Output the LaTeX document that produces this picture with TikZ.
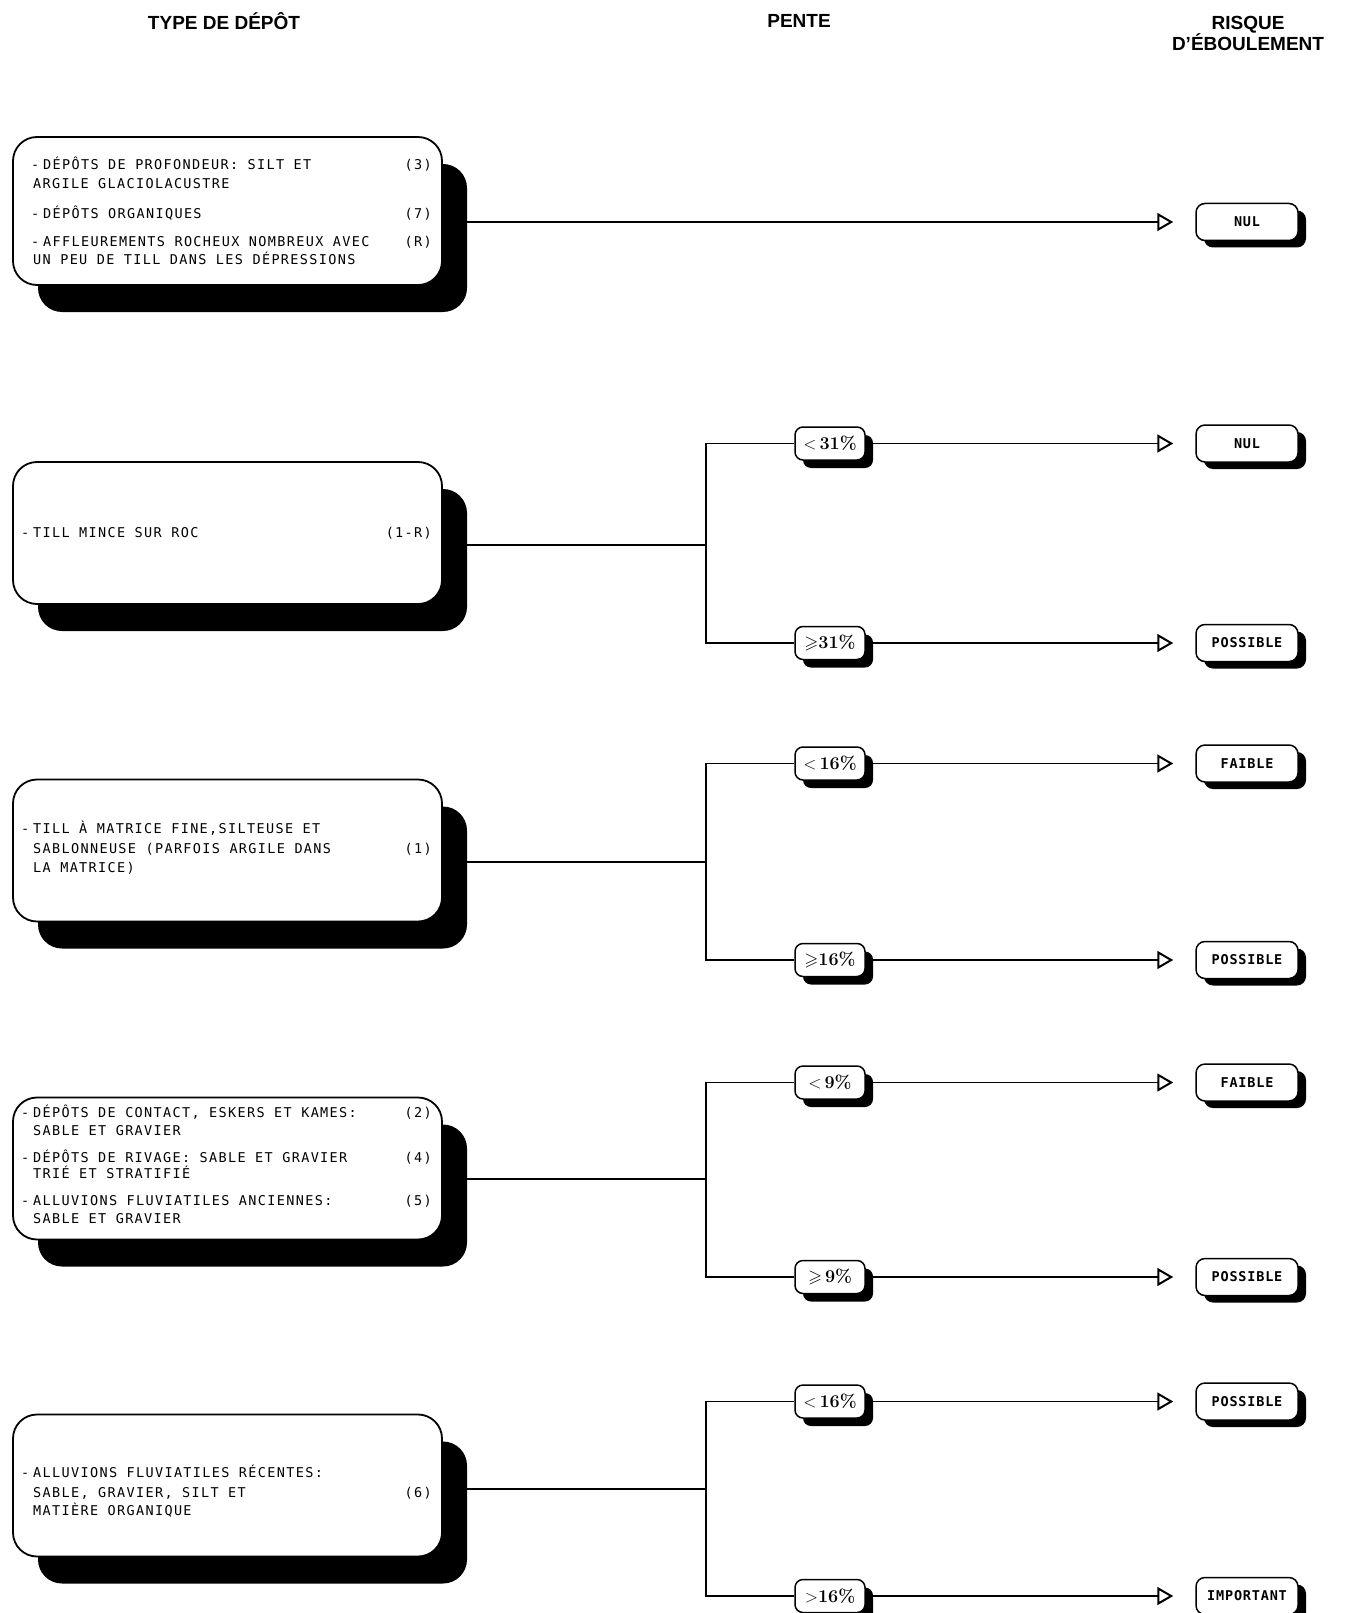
\documentclass[tikz,border=0pt]{standalone}
\usepackage{fontspec}
\usepackage{amssymb}
\usetikzlibrary{arrows.meta,shadows}
\newfontfamily\lettrage[LetterSpace=10]{DejaVu Sans Mono}
\newfontfamily\risquefont[LetterSpace=6]{DejaVu Sans Mono}
\newfontfamily\entete{Liberation Sans}

\tikzset{
  depot/.style={draw, line width=1.8pt, fill=white, rounded corners=24pt,
    minimum width=429pt, minimum height=142pt,
    drop shadow={shadow xshift=25pt, shadow yshift=-27pt, fill=black, opacity=1}},
  pente/.style={draw, line width=1.5pt, fill=white, rounded corners=8pt,
    minimum width=70pt, minimum height=33pt, inner sep=2pt,
    font=\bfseries\fontsize{18}{18}\selectfont,
    drop shadow={shadow xshift=8pt, shadow yshift=-8pt, fill=black, opacity=1}},
  risque/.style={draw, line width=1.5pt, fill=white, rounded corners=9pt,
    minimum width=102pt, minimum height=37pt, inner sep=2pt,
    font=\risquefont\bfseries\fontsize{13.5}{13.5}\selectfont,
    drop shadow={shadow xshift=8pt, shadow yshift=-7pt, fill=black, opacity=1}},
  ligne/.style={anchor=base west, inner sep=0pt, font=\lettrage\fontsize{13.5}{13.5}\selectfont},
  numero/.style={anchor=base east, inner sep=0pt, font=\lettrage\fontsize{13.5}{13.5}\selectfont},
  titre/.style={font=\entete\bfseries\fontsize{19}{21}\selectfont, align=center},
  trait/.style={line width=1.4pt},
  fleche/.style={trait, -{Triangle[open, length=16pt, width=18pt, line width=2pt]}, shorten >=22pt},
}

\begin{document}
\begin{tikzpicture}[x=1pt, y=-1pt]
  \useasboundingbox (0,0) rectangle (1345,1613);

  % en-tetes
  \node[titre] (h1) at (224,21) {TYPE DE DÉPÔT};
  \node[titre] (h2) at (799,21) {PENTE};
  \node[titre] (h3) at (1248,33.5) {RISQUE\\D’ÉBOULEMENT};

  % types de depot
  \node[depot, minimum height=148pt] (b1) at (227.5,211) {};
  \node[depot] (b2) at (227.5,533) {};
  \node[depot] (b3) at (227.5,850.5) {};
  \node[depot] (b4) at (227.5,1168.5) {};
  \node[depot] (b5) at (227.5,1485.5) {};

  \node[ligne] (t1a) at (43,170) {\llap{-\hspace{4pt}}DÉPÔTS DE PROFONDEUR: SILT ET};
  \node[ligne] (t1b) at (33,188.5) {ARGILE GLACIOLACUSTRE};
  \node[ligne] (t1c) at (43,218.5) {\llap{-\hspace{4pt}}DÉPÔTS ORGANIQUES};
  \node[ligne] (t1d) at (43,246.5) {\llap{-\hspace{4pt}}AFFLEUREMENTS ROCHEUX NOMBREUX AVEC};
  \node[ligne] (t1e) at (33,265) {UN PEU DE TILL DANS LES DÉPRESSIONS};
  \node[numero] (n1a) at (432,170) {(3)};
  \node[numero] (n1b) at (432,218.5) {(7)};
  \node[numero] (n1c) at (432,246.5) {(R)};

  \node[ligne] (t2a) at (33,537) {\llap{-\hspace{4pt}}TILL MINCE SUR ROC};
  \node[numero] (n2a) at (432,537) {(1-R)};

  \node[ligne] (t3a) at (33,833.5) {\llap{-\hspace{4pt}}TILL À MATRICE FINE,SILTEUSE ET};
  \node[ligne] (t3b) at (33,853) {SABLONNEUSE (PARFOIS ARGILE DANS};
  \node[ligne] (t3c) at (33,872) {LA MATRICE)};
  \node[numero] (n3a) at (432,853) {(1)};

  \node[ligne] (t4a) at (33,1117) {\llap{-\hspace{4pt}}DÉPÔTS DE CONTACT, ESKERS ET KAMES:};
  \node[ligne] (t4b) at (33,1135) {SABLE ET GRAVIER};
  \node[ligne] (t4c) at (33,1162) {\llap{-\hspace{4pt}}DÉPÔTS DE RIVAGE: SABLE ET GRAVIER};
  \node[ligne] (t4d) at (33,1178) {TRIÉ ET STRATIFIÉ};
  \node[ligne] (t4e) at (33,1205) {\llap{-\hspace{4pt}}ALLUVIONS FLUVIATILES ANCIENNES:};
  \node[ligne] (t4f) at (33,1223) {SABLE ET GRAVIER};
  \node[numero] (n4a) at (432,1117) {(2)};
  \node[numero] (n4b) at (432,1162) {(4)};
  \node[numero] (n4c) at (432,1205) {(5)};

  \node[ligne] (t5a) at (33,1477) {\llap{-\hspace{4pt}}ALLUVIONS FLUVIATILES RÉCENTES:};
  \node[ligne] (t5b) at (33,1497) {SABLE, GRAVIER, SILT ET};
  \node[ligne] (t5c) at (33,1515) {MATIÈRE ORGANIQUE};
  \node[numero] (n5a) at (432,1497) {(6)};

  % pentes
  \node[pente] (s1a) at (830,443.5) {$<$\,31\%};
  \node[pente] (s1b) at (830,643) {$\geqslant$31\%};
  \node[pente] (s2a) at (830,763.5) {$<$\,16\%};
  \node[pente] (s2b) at (830,960) {$\geqslant$16\%};
  \node[pente] (s3a) at (830,1082.5) {$<$\,9\%};
  \node[pente] (s3b) at (830,1277) {$\geqslant$\,9\%};
  \node[pente] (s4a) at (830,1401.5) {$<$\,16\%};
  \node[pente] (s4b) at (830,1596) {$>$16\%};

  % risques
  \node[risque] (r0) at (1247,222) {NUL};
  \node[risque] (r1a) at (1247,443.5) {NUL};
  \node[risque] (r1b) at (1247,643) {POSSIBLE};
  \node[risque] (r2a) at (1247,763.5) {FAIBLE};
  \node[risque] (r2b) at (1247,960) {POSSIBLE};
  \node[risque] (r3a) at (1247,1082.5) {FAIBLE};
  \node[risque] (r3b) at (1247,1277) {POSSIBLE};
  \node[risque] (r4a) at (1247,1401.5) {POSSIBLE};
  \node[risque] (r4b) at (1247,1596) {IMPORTANT};

  % embranchements
  \coordinate (j1) at (706,545);
  \coordinate (j2) at (706,862);
  \coordinate (j3) at (706,1179);
  \coordinate (j4) at (706,1489);

  \draw[fleche] (b1.east |- r0) -- (r0);

  \draw[trait] (b2.east |- j1) -- (j1);
  \draw[trait] (s1a) -| (j1) |- (s1b);
  \draw[fleche] (s1a) -- (r1a);
  \draw[fleche] (s1b) -- (r1b);

  \draw[trait] (b3.east |- j2) -- (j2);
  \draw[trait] (s2a) -| (j2) |- (s2b);
  \draw[fleche] (s2a) -- (r2a);
  \draw[fleche] (s2b) -- (r2b);

  \draw[trait] (b4.east |- j3) -- (j3);
  \draw[trait] (s3a) -| (j3) |- (s3b);
  \draw[fleche] (s3a) -- (r3a);
  \draw[fleche] (s3b) -- (r3b);

  \draw[trait] (b5.east |- j4) -- (j4);
  \draw[trait] (s4a) -| (j4) |- (s4b);
  \draw[fleche] (s4a) -- (r4a);
  \draw[fleche] (s4b) -- (r4b);
\end{tikzpicture}
\end{document}
